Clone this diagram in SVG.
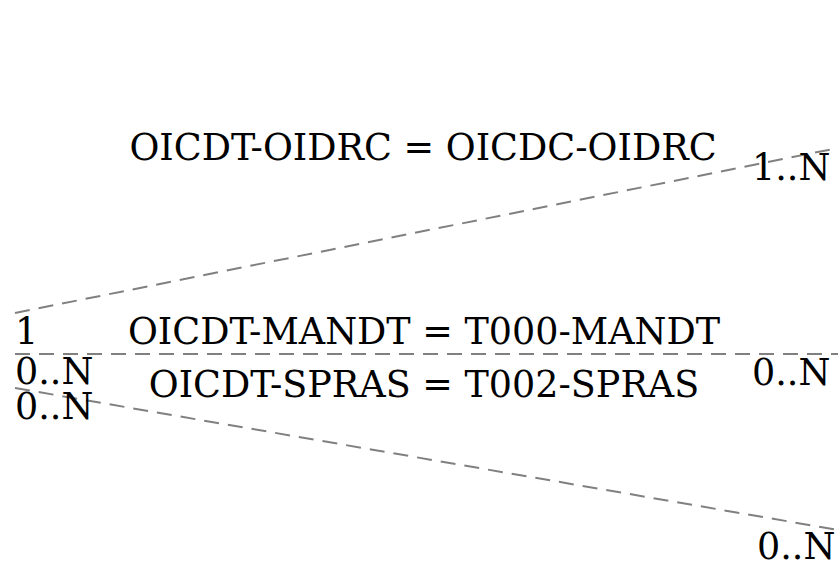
<svg xmlns="http://www.w3.org/2000/svg" width="838" height="565" viewBox="0 0 838 565">
<style>
.c{stroke:#808080;stroke-width:2;stroke-dasharray:15,9;fill:none}
text{font-family:"DejaVu Serif",serif;font-size:36.5px;fill:#000}
.m{text-anchor:middle}
</style>
<rect width="838" height="565" fill="#fff"/>
<g id="connectors">
<line class="c" x1="15" y1="313" x2="838" y2="148"/>
<line class="c" x1="15" y1="354" x2="838" y2="354"/>
<line class="c" x1="15" y1="388" x2="838" y2="530"/>
</g>
<g id="labels">
<text class="m" x="423" y="160">OICDT-OIDRC = OICDC-OIDRC</text>
<text class="m" x="424" y="344">OICDT-MANDT = T000-MANDT</text>
<text class="m" x="424" y="397">OICDT-SPRAS = T002-SPRAS</text>
<text x="15" y="344">1</text>
<text x="15" y="384">0..N</text>
<text x="15" y="419">0..N</text>
<text x="752" y="180">1..N</text>
<text x="752" y="385">0..N</text>
<text x="757" y="559">0..N</text>
</g>
</svg>
